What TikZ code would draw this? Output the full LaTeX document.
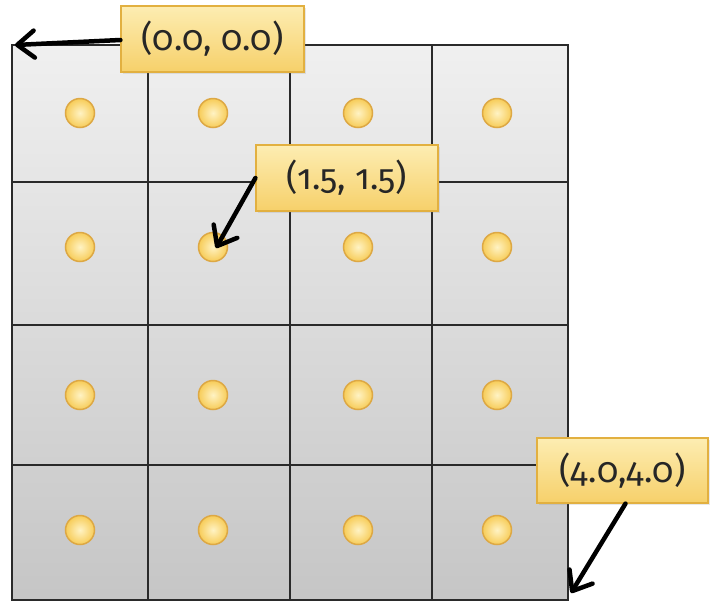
\documentclass[tikz,border=0pt]{standalone}
\usepackage{fontspec}
\setmainfont{Fira Sans}[Numbers=OldStyle]
\usetikzlibrary{arrows.meta,shadows}
\definecolor{boxtop}{HTML}{FDEDB2}
\definecolor{boxbot}{HTML}{F6D06A}
\definecolor{boxborder}{HTML}{E2B040}
\definecolor{dotin}{HTML}{FFF3C4}
\definecolor{dotout}{HTML}{F7CC58}
\definecolor{dotborder}{HTML}{DDA844}
\definecolor{gridline}{HTML}{2A2A2A}
\begin{document}
\begin{tikzpicture}[x=1pt,y=-1pt,
  lbl/.style={draw=boxborder, line width=1.2pt, top color=boxtop, bottom color=boxbot,
    inner sep=0pt, font=\fontsize{35}{40}\selectfont, text=black!85,
    drop shadow={opacity=0.18, shadow xshift=2pt, shadow yshift=-2pt}},
  dot/.style={circle, draw=dotborder, line width=1.5pt, inner color=dotin, outer color=dotout,
    minimum size=29pt, inner sep=0pt},
  ptr/.style={line width=4.5pt, line cap=round, -{Straight Barb[length=17pt,width=27pt,round]}},
  gl/.style={draw=gridline, line width=1.6pt}]
\useasboundingbox (0,0) rectangle (710,603);
% grid background
\shade[top color=gray!12, bottom color=gray!45] (12,45) rectangle (568,600);
\foreach \x in {148,290,432} \draw[gl] (\x,45) -- (\x,600);
\foreach \y in {182,325,465} \draw[gl] (12,\y) -- (568,\y);
\draw[gl] (12,45) rectangle (568,600);
\coordinate (tl) at (15,45);
\coordinate (br) at (571,593);
% dots
\foreach \x [count=\i] in {80,213,358,497}
  \foreach \y [count=\j] in {113,247,395,530}
    \node[dot] (d\i\j) at (\x,\y) {};
% labels
\node[lbl, minimum width=183pt, minimum height=66pt] (A) at (212.5,39) {(0.0, 0.0)};
\node[lbl, minimum width=182pt, minimum height=66pt] (B) at (347,178) {(1.5, 1.5)};
\node[lbl, minimum width=171pt, minimum height=65pt] (C) at (622.5,470.5) {(4.0,4.0)};
% pointers
\draw[ptr] ([yshift=-1pt]A.west) -- (tl);
\draw[ptr] ([yshift=0pt]B.west) -- ([xshift=3pt,yshift=-1pt]d22.center);
\draw[ptr] ([xshift=3pt]C.south) -- (br);
\end{tikzpicture}
\end{document}
